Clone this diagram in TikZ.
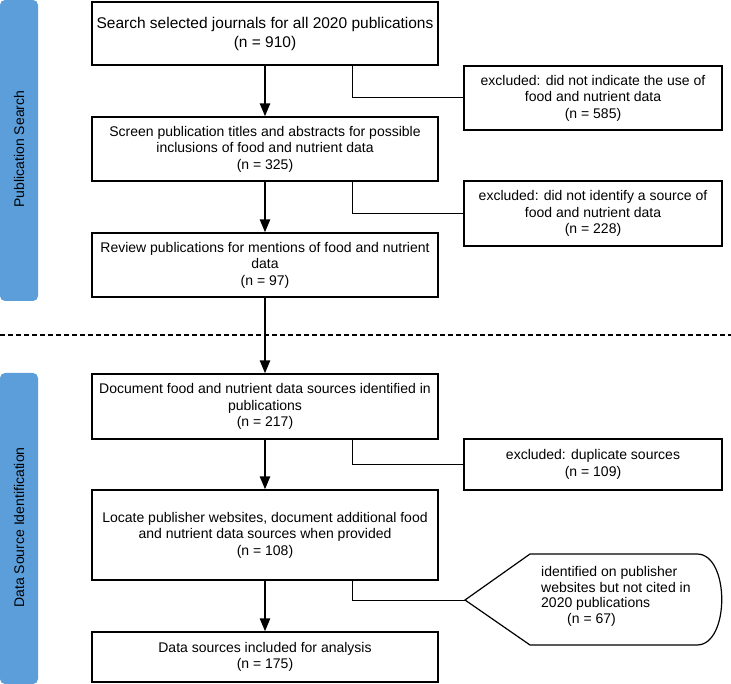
\documentclass[tikz,border=0pt]{standalone}
\usepackage{fontspec}
\setmainfont{Liberation Sans}
\usetikzlibrary{arrows.meta,positioning}
\definecolor{barblue}{RGB}{92,158,218}

\begin{document}
\begin{tikzpicture}[x=1pt,y=-1pt,
  stage/.style={draw,line width=1.2pt,minimum width=346pt,inner sep=0pt,align=center,font=\fontsize{14}{16.5}\selectfont},
  drop/.style={draw,line width=1.2pt,minimum width=258pt,inner sep=0pt,align=center,font=\fontsize{14}{16.5}\selectfont},
  phase/.style={fill=barblue,rounded corners=5pt},
  flow/.style={line width=2.4pt,-{Triangle[width=10pt,length=13pt]}},
  side/.style={line width=1pt}]
 \useasboundingbox (0,0) rectangle (731,684);

 % phases
 \fill[phase] (0,0) rectangle (38,301);
 \fill[phase] (0,373) rectangle (38,684);
 \node (p0) at (19,149) [rotate=90,font=\fontsize{14}{16.5}\selectfont] {Publication Search};
 \node (p1) at (19,527.5) [rotate=90,font=\fontsize{14}{16.5}\selectfont] {Data Source Identification};
 \draw[line width=1.2pt,dash pattern=on 5pt off 3pt] (0,335) -- (731,335);

 % coordinates
 \coordinate (c0) at (265,33.5);
 \coordinate (c1) at (265,149);
 \coordinate (c2) at (265,265);
 \coordinate (c3) at (265,406.5);
 \coordinate (c4) at (265,535);
 \coordinate (c5) at (265,657);
 \coordinate (tip) at (465,600);

 % stages
 \node (m0) at (c0) [stage,minimum height=63pt,font=\fontsize{15.5}{19}\selectfont] {Search selected journals for all 2020 publications\\(n = 910)};
 \node (m1) at (c1) [stage,minimum height=64pt] {Screen publication titles and abstracts for possible\\inclusions of food and nutrient data\\(n = 325)};
 \node (m2) at (c2) [stage,minimum height=64pt] {Review publications for mentions of food and nutrient\\data\\(n = 97)};
 \node (m3) at (c3) [stage,minimum height=65pt] {Document food and nutrient data sources identified in\\publications\\(n = 217)};
 \node (m4) at (c4) [stage,minimum height=90pt] {Locate publisher websites, document additional food\\and nutrient data sources when provided\\(n = 108)};
 \node (m5) at (c5) [stage,minimum height=50pt] {Data sources included for analysis\\(n = 175)};

 % exclusions
 \node (e0) at (593,98) [drop,minimum height=64pt] {excluded: did not indicate the use of\\food and nutrient data\\(n = 585)};
 \node (e1) at (593,213.5) [drop,minimum height=65pt] {excluded: did not identify a source of\\food and nutrient data\\(n = 228)};
 \node (e2) at (593,464.5) [drop,minimum height=51pt] {excluded: duplicate sources\\(n = 109)};
 \draw[line width=1.2pt] (tip) -- (530,554) -- (697,554)
   .. controls (730,554) and (730,645) .. (697,645) -- (530,645) -- cycle;
 \node (e3) at (541,596.5) [anchor=west,inner sep=0pt,align=left,font=\fontsize{14}{15.5}\selectfont]
   {identified on publisher\\websites but not cited in\\2020 publications\\\hspace*{26pt}(n = 67)};

 % connectors
 \foreach \x [count=\y] in {0,...,4} {
  \draw[flow] (m\x) -- (m\y);
 };
 \foreach \x in {0,1,3} {
  \pgfmathtruncatemacro{\k}{\x==3 ? 2 : \x}
  \draw[side] ([xshift=87pt]m\x.south) |- (e\k.west);
 };
 \draw[side] ([xshift=87pt]m4.south) |- (tip);
\end{tikzpicture}
\end{document}
